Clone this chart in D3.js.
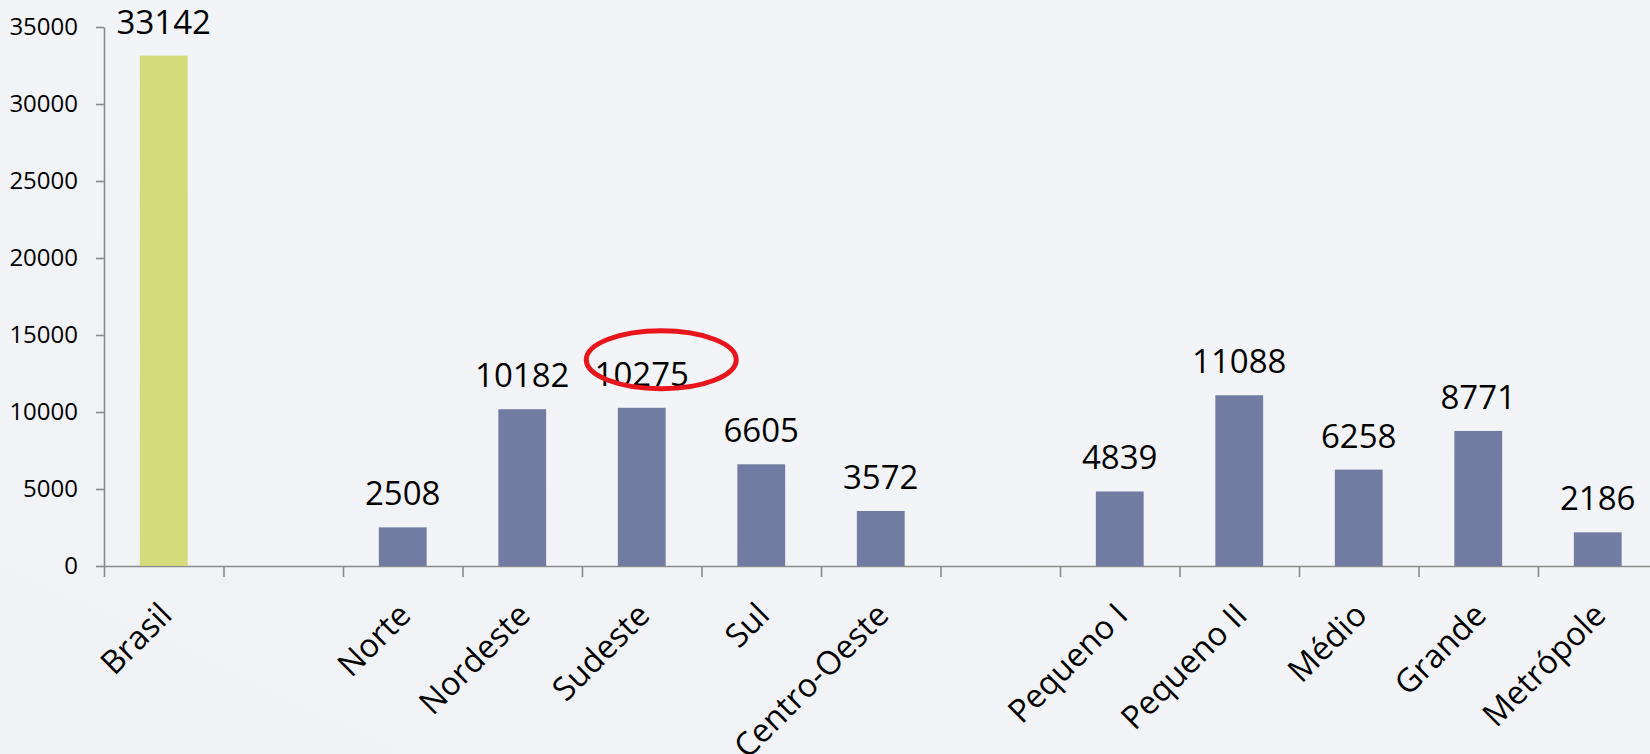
<!DOCTYPE html>
<html>
<head>
<meta charset="utf-8">
<script src="https://cdn.jsdelivr.net/npm/d3@7"></script>
<style>
  html, body { margin: 0; padding: 0; background: #f2f3f6; }
  svg { display: block; }
  text { font-family: "Open Sans", sans-serif; fill: #000; }
</style>
</head>
<body>
<div class="chart"></div>
<script>
// categorias do eixo x (vazio = espaço entre grupos)
var categories = ["Brasil", "", "Norte", "Nordeste", "Sudeste", "Sul", "Centro-Oeste", "", "Pequeno I", "Pequeno II", "Médio", "Grande", "Metrópole"];
var values = [33142, null, 2508, 10182, 10275, 6605, 3572, null, 4839, 11088, 6258, 8771, 2186];
var highlighted = ["Brasil"];
var yTicks = [0, 5000, 10000, 15000, 20000, 25000, 30000, 35000];
var circled = "Sudeste";

var width = 1650, height = 754;
var svg = d3.select(".chart").append("svg")
	.attr("width", width)
	.attr("height", height);

// fundo com leve gradiente
var defs = svg.append("defs");
var grad = defs.append("linearGradient")
	.attr("id", "bg")
	.attr("x1", "0").attr("y1", "1").attr("x2", "1").attr("y2", "0");
grad.append("stop").attr("offset", "0").attr("stop-color", "#f1f2f6");
grad.append("stop").attr("offset", "0.5").attr("stop-color", "#f3f4f7");
grad.append("stop").attr("offset", "1").attr("stop-color", "#f2f3f6");
svg.append("rect").attr("width", width).attr("height", height).attr("fill", "url(#bg)");

// escalas
var left = 104, step = 119.5;
var x = d3.scaleBand()
	.domain(d3.range(categories.length))
	.range([left, left + step * categories.length])
	.padding(0);
var xEdge = d3.scaleLinear()
	.domain([0, categories.length])
	.range(x.range());
var y = d3.scaleLinear()
	.domain([0, 35000])
	.range([566, 27]);

var barW = x.bandwidth() * 0.4;

// eixo y
var yAxis = svg.append("g")
	.attr("transform", "translate(" + left + ",0)")
	.call(d3.axisLeft(y).tickValues(yTicks).tickSize(8).tickSizeOuter(0).tickPadding(18).tickFormat(d3.format("d")));
yAxis.selectAll("text").style("font-size", "24px").attr("fill", "#000");

// eixo x (marcas nas divisões)
var xAxis = svg.append("g")
	.attr("transform", "translate(0," + y(0) + ")")
	.call(d3.axisBottom(xEdge).tickValues(d3.range(categories.length + 1)).tickSize(11).tickSizeOuter(0).tickFormat(""));

svg.selectAll(".domain, .tick line")
	.attr("stroke", "#8a8a8a")
	.attr("stroke-width", 1.6);

// barras
var data = categories.map(function(c, i) { return { name: c, value: values[i], i: i }; })
	.filter(function(d) { return d.value != null; });

svg.append("g").selectAll("rect")
	.data(data)
	.enter()
	.append("rect")
	.attr("x", function(d) { return x(d.i) + (x.bandwidth() - barW) / 2; })
	.attr("y", function(d) { return y(d.value); })
	.attr("width", barW)
	.attr("height", function(d) { return y(0) - y(d.value); })
	.attr("fill", function(d) { return highlighted.indexOf(d.name) >= 0 ? "#d4db7a" : "#727ba2"; });

// rótulos de valor
svg.append("g").selectAll("text")
	.data(data)
	.enter()
	.append("text")
	.attr("x", function(d) { return x(d.i) + x.bandwidth() / 2; })
	.attr("y", function(d) { return y(d.value) - 22; })
	.attr("text-anchor", "middle")
	.style("font-size", "33px")
	.text(function(d) { return d.value; });

// rótulos das categorias (girados)
svg.append("g").selectAll("text")
	.data(categories.map(function(c, i) { return { name: c, i: i }; }).filter(function(d) { return d.name; }))
	.enter()
	.append("text")
	.attr("transform", function(d) {
		return "translate(" + (x(d.i) + x.bandwidth() / 2 + 10) + "," + (y(0) + 51) + ") rotate(-45)";
	})
	.attr("text-anchor", "end")
	.style("font-size", "32.5px")
	.text(function(d) { return d.name; });

// destaque em vermelho
var ci = categories.indexOf(circled);
svg.append("ellipse")
	.attr("cx", x(ci) + x.bandwidth() / 2 + 19.5)
	.attr("cy", y(values[ci]) - 48)
	.attr("rx", 75)
	.attr("ry", 29)
	.attr("fill", "none")
	.attr("stroke", "#e8161c")
	.attr("stroke-width", 5);
</script>
</body>
</html>
